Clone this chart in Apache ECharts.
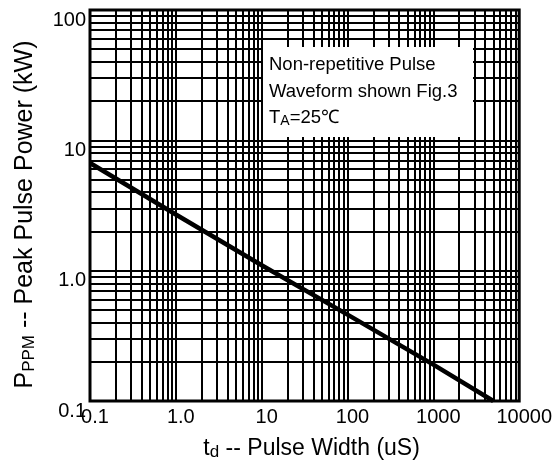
<!DOCTYPE html>
<html>
<head>
<meta charset="utf-8">
<script src="https://cdn.jsdelivr.net/npm/echarts@6/dist/echarts.min.js"></script>
<style>
  html, body { margin: 0; padding: 0; background: #fff; }
  #chart { width: 555px; height: 471px; }
</style>
</head>
<body>
<div id="chart"></div>
<script>
// pulse width (uS) vs peak pulse power (kW)
var pulseWidth = [0.1, 1, 10, 100, 1000, 5000];
var peakPower = [6.7, 2.7, 1.1, 0.46, 0.19, 0.1];

var xTickLabels = ["0.1", "1.0", "10", "100", "1000", "10000"];
var yTickLabels = ["0.1", "1.0", "10", "100"];

// decades where the minor grid (2..9) is drawn
var xDecades = [0.1, 1, 10, 100, 1000];
var yDecades = [0.1, 1, 10];
var minorSteps = [2, 3, 4, 5, 6, 7, 8, 9];

var noteLines = ["Non-repetitive Pulse", "Waveform shown Fig.3", "T{s|A}=25℃"];

var FONT = "Liberation Sans, Arial, sans-serif";

// 次网格线
function minorGrid() {
  var lines = [];
  for (var i = 0; i < xDecades.length; i++) {
    for (var j = 0; j < minorSteps.length; j++) {
      lines.push({ xAxis: +(xDecades[i] * minorSteps[j]).toPrecision(3) });
    }
  }
  for (var i = 0; i < yDecades.length; i++) {
    for (var j = 0; j < minorSteps.length; j++) {
      lines.push({ yAxis: +(yDecades[i] * minorSteps[j]).toPrecision(3) });
    }
  }
  return lines;
}

var chart = echarts.init(document.getElementById("chart"));

var curve = pulseWidth.map(function (t, i) {
  return [t, peakPower[i]];
});

chart.setOption({
  animation: false,
  backgroundColor: "#fff",
  grid: {
    left: 90,
    top: 10,
    right: 34,
    bottom: 70,
    show: true,
    borderColor: "#000",
    borderWidth: 3,
  },
  xAxis: {
    type: "log",
    logBase: 10,
    min: 0.1,
    max: 10000,
    axisLine: { show: false },
    axisTick: { show: false },
    splitLine: { show: true, lineStyle: { color: "#000", width: 2 } },
    axisLabel: {
      color: "#000",
      fontFamily: FONT,
      fontSize: 20,
      margin: 6,
      padding: [0, 0, 0, 10],
      formatter: function (v, idx) {
        return xTickLabels[idx];
      },
    },
    name: "t{s|d} -- Pulse Width (uS)",
    nameLocation: "middle",
    nameGap: 35,
    nameTextStyle: {
      color: "#000",
      fontFamily: FONT,
      fontSize: 23,
      padding: [0, 0, 0, 14],
      rich: {
        s: { fontFamily: FONT, fontSize: 17, padding: [8, 0, 0, 0], color: "#000" },
      },
    },
  },
  yAxis: {
    type: "log",
    logBase: 10,
    min: 0.1,
    max: 100,
    axisLine: { show: false },
    axisTick: { show: false },
    splitLine: { show: true, lineStyle: { color: "#000", width: 2 } },
    axisLabel: {
      color: "#000",
      fontFamily: FONT,
      fontSize: 20,
      margin: 4,
      verticalAlign: "top",
      formatter: function (v, idx) {
        return yTickLabels[idx];
      },
    },
    name: "P{s|PPM} -- Peak Pulse Power (kW)",
    nameLocation: "middle",
    nameRotate: 90,
    nameGap: 52,
    nameTextStyle: {
      color: "#000",
      fontFamily: FONT,
      fontSize: 25,
      padding: [0, 18, 0, 0],
      rich: {
        s: { fontFamily: FONT, fontSize: 17, padding: [8, 0, 0, 0], color: "#000" },
      },
    },
  },
  series: [
    {
      // minor grid lines
      type: "line",
      data: [],
      z: 1,
      silent: true,
      markLine: {
        silent: true,
        symbol: "none",
        animation: false,
        label: { show: false },
        lineStyle: { color: "#000", width: 2, type: "solid" },
        data: minorGrid(),
      },
    },
    {
      type: "line",
      data: curve,
      z: 5,
      symbol: "none",
      lineStyle: { color: "#000", width: 4.5 },
    },
  ],
  graphic: [
    {
      type: "rect",
      z: 100,
      shape: { x: 263, y: 47, width: 210, height: 90 },
      style: { fill: "#fff" },
    },
    {
      type: "text",
      z: 101,
      x: 269,
      y: 65,
      style: { text: noteLines[0], fill: "#000", font: "18.5px " + FONT, verticalAlign: "middle" },
    },
    {
      type: "text",
      z: 101,
      x: 269,
      y: 92,
      style: { text: noteLines[1], fill: "#000", font: "18.5px " + FONT, verticalAlign: "middle" },
    },
    {
      type: "text",
      z: 101,
      x: 269,
      y: 118,
      style: {
        text: noteLines[2],
        fill: "#000",
        font: "18.5px " + FONT,
        verticalAlign: "middle",
        rich: {
          s: { fontFamily: FONT, fontSize: 14, padding: [7, 0, 0, 0], fill: "#000" },
        },
      },
    },
  ],
});
</script>
</body>
</html>
